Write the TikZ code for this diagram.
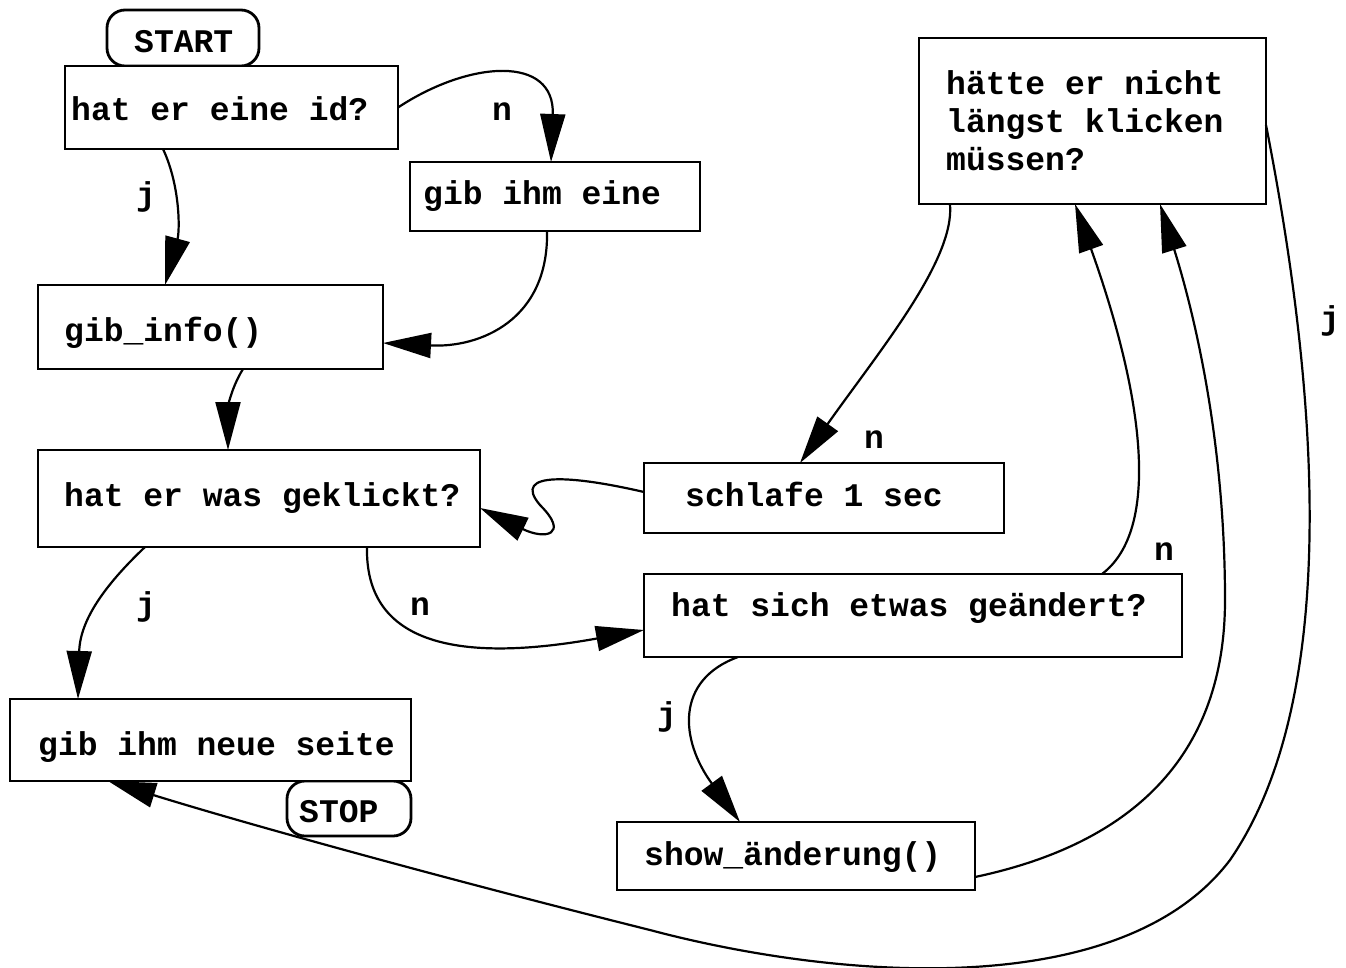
\documentclass[tikz,border=0pt]{standalone}
\usepackage{fontspec}
\setmainfont{Liberation Mono}
\usetikzlibrary{arrows.meta,calc}
\begin{document}
\begin{tikzpicture}[x=1pt,y=-1pt,
  box/.style={draw, line width=2.8pt, fill=white, rectangle, anchor=north west,
    inner sep=0pt, outer sep=0pt},
  term/.style={box, rounded corners=18pt},
  txt/.style={anchor=base west, inner sep=0pt, font=\fontsize{33pt}{38pt}\selectfont\bfseries},
  lbl/.style={anchor=base, inner sep=0pt, font=\fontsize{33pt}{38pt}\selectfont\bfseries},
  flow/.style={line width=2.2pt, -{Triangle[length=48pt,width=25pt]}},
]
\useasboundingbox (0,0) rectangle (1346,967);

% terminals and process boxes
\node[term, minimum width=152pt, minimum height=56pt] (start) at (107,10) {};
\node[box, minimum width=333pt, minimum height=83pt] (id) at (65,66) {};
\node[box, minimum width=290pt, minimum height=69pt] (eine) at (410,162) {};
\node[box, minimum width=345pt, minimum height=84pt] (info) at (38,285) {};
\node[box, minimum width=442pt, minimum height=97pt] (klick) at (38,450) {};
\node[box, minimum width=360pt, minimum height=70pt] (schlafe) at (644,463) {};
\node[box, minimum width=538pt, minimum height=83pt] (aend) at (644,574) {};
\node[term, minimum width=124pt, minimum height=55pt] (stop) at (287,781) {};
\node[box, minimum width=401pt, minimum height=82pt] (neue) at (10,699) {};
\node[box, minimum width=358pt, minimum height=68pt] (show) at (617,822) {};
\node[box, minimum width=347pt, minimum height=166pt] (haette) at (919,38) {};

% box texts
\node[txt] (startT) at (134,52) {START};
\node[txt] (idT) at (71,120) {hat er eine id?};
\node[txt] (eineT) at (423,204) {gib ihm eine};
\node[txt] (infoT) at (64,341) {gib\_info()};
\node[txt] (klickT) at (64,506) {hat er was geklickt?};
\node[txt] (schlafeT) at (685,506) {schlafe 1 sec};
\node[txt] (aendT) at (671,616) {hat sich etwas geändert?};
\node[txt] (neueT) at (38,755) {gib ihm neue seite};
\node[txt] (stopT) at (299,822) {STOP};
\node[txt] (showT) at (644,865) {show\_änderung()};
\node[txt] (haetteA) at (946,94) {hätte er nicht};
\node[txt] (haetteB) at (946,132) {längst klicken};
\node[txt] (haetteC) at (946,170) {müssen?};

% connectors
\draw[flow] (id.east) .. controls (470,60) and (555,55) .. ($(eine.north west)+(141,0)$);
\draw[flow] ($(id.south west)+(98,0)$) .. controls (180,185) and (180,230) .. ($(info.north west)+(127,0)$);
\draw[flow] ($(eine.south west)+(137,0)$) .. controls (549,320) and (480,348) .. ($(info.north east)+(0,58)$);
\draw[flow] ($(info.south west)+(205,0)$) .. controls (230,390) and (228,410) .. ($(klick.north west)+(190,0)$);
\draw[flow] ($(haette.south west)+(31,0)$) .. controls (955,260) and (880,350) .. ($(schlafe.north west)+(156,0)$);
\draw[flow] ($(schlafe.north west)+(0,29)$) .. controls (575,476) and (510,470) .. (540,505)
  .. controls (570,535) and (545,540) .. ($(klick.north east)+(0,58)$);
\draw[flow] ($(klick.south west)+(107,0)$) .. controls (105,585) and (80,620) .. ($(neue.north west)+(68,0)$);
\draw[flow] ($(klick.south west)+(329,0)$) .. controls (365,640) and (450,665) .. ($(aend.north west)+(0,56)$);
\draw[flow] ($(aend.north west)+(458,0)$) .. controls (1160,530) and (1145,400) .. ($(haette.south west)+(156,0)$);
\draw[flow] ($(aend.south west)+(94,0)$) .. controls (675,680) and (680,740) .. ($(show.north west)+(123,0)$);
\draw[flow] ($(show.south east)+(0,-13)$) .. controls (1150,840) and (1225,740) .. (1225,600)
  .. controls (1225,430) and (1190,300) .. ($(haette.south west)+(241,0)$);
\draw[flow] ($(haette.north east)+(0,87)$) .. controls (1320,400) and (1340,700) .. (1230,860)
  .. controls (1120,1005) and (830,978) .. (650,930)
  .. controls (450,880) and (250,825) .. ($(neue.south west)+(98,0)$);

% branch labels
\node[lbl] (n1) at (502,120) {n};
\node[lbl] (j1) at (146,205) {j};
\node[lbl] (n2) at (874,448) {n};
\node[lbl] (j2) at (146,615) {j};
\node[lbl] (n3) at (420,615) {n};
\node[lbl] (n4) at (1164,560) {n};
\node[lbl] (j3) at (667,725) {j};
\node[lbl] (j4) at (1330,329) {j};
\end{tikzpicture}
\end{document}
